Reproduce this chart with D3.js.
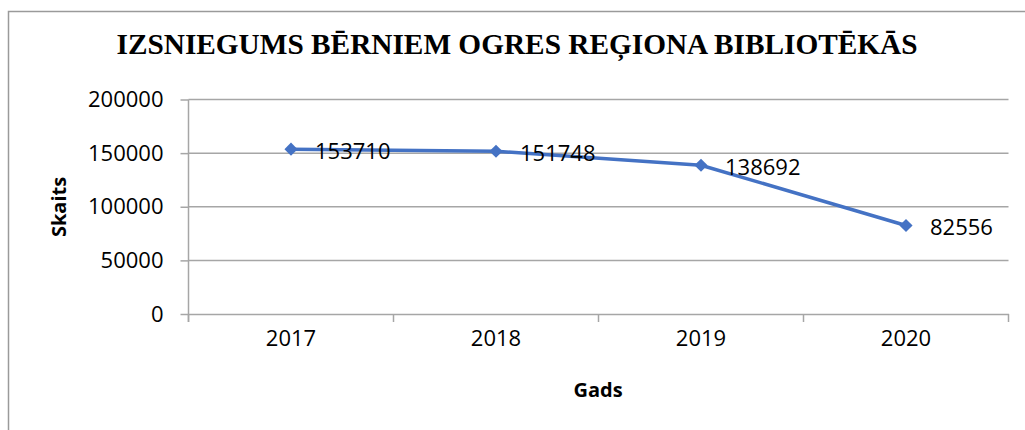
<!DOCTYPE html>
<html lang="lv">
<head>
<meta charset="UTF-8">
<script src="https://cdnjs.cloudflare.com/ajax/libs/d3/7.8.5/d3.min.js"></script>
<style>
body { margin: 0; background: #fff; }
svg { display: block; }
.tick text { font-family: "Open Sans", sans-serif; font-size: 22px; fill: #000; }
</style>
</head>
<body>
<script>
var years = ["2017", "2018", "2019", "2020"];
var values = [153710, 151748, 138692, 82556];
var yTicks = [0, 50000, 100000, 150000, 200000];

var W = 1025, H = 430;
var plot = { left: 188.5, right: 1008.5, top: 99.5, bottom: 314 };

var svg = d3.select("body").append("svg")
    .attr("width", W)
    .attr("height", H);

// outer chart frame (runs off the right and bottom of the picture)
svg.append("rect")
    .attr("x", 8.5).attr("y", 11.5)
    .attr("width", W + 20).attr("height", H + 20)
    .attr("fill", "#fff")
    .attr("stroke", "#9a9a9a")
    .attr("stroke-width", 1.5);

var x = d3.scaleBand().domain(years).range([plot.left, plot.right]);
var y = d3.scaleLinear().domain([0, 200000]).range([plot.bottom, plot.top]);

// gridlines
svg.append("g")
    .selectAll("line")
    .data(yTicks.slice(1))
    .join("line")
    .attr("x1", plot.left).attr("x2", plot.right)
    .attr("y1", d => y(d)).attr("y2", d => y(d))
    .attr("stroke", "#a6a6a6")
    .attr("stroke-width", 1.5);

var yAxis = svg.append("g")
    .attr("transform", "translate(" + plot.left + ",0)")
    .call(d3.axisLeft(y).tickValues(yTicks).tickSize(8).tickPadding(17).tickFormat(d3.format("d")));
yAxis.selectAll("line, path").attr("stroke", "#a6a6a6").attr("stroke-width", 1.5);
yAxis.select(".domain").attr("d", "M0," + plot.top + "V" + (plot.bottom + 8));

var xAxis = svg.append("g")
    .attr("transform", "translate(0," + plot.bottom + ")")
    .call(d3.axisBottom(x).tickSize(0).tickPadding(24));
xAxis.select(".domain").attr("stroke", "#a6a6a6").attr("stroke-width", 1.5);
xAxis.selectAll(".tick text").attr("dy", "0.35em");

// category boundary ticks
svg.append("g")
    .selectAll("line")
    .data(years.concat(["end"]))
    .join("line")
    .attr("x1", (d, i) => plot.left + i * x.bandwidth())
    .attr("x2", (d, i) => plot.left + i * x.bandwidth())
    .attr("y1", plot.bottom).attr("y2", plot.bottom + 8)
    .attr("stroke", "#a6a6a6")
    .attr("stroke-width", 1.5);

var cx = d => x(d) + x.bandwidth() / 2;

var line = d3.line()
    .x((d, i) => cx(years[i]))
    .y(d => y(d));

svg.append("path")
    .datum(values)
    .attr("d", line)
    .attr("fill", "none")
    .attr("stroke", "#4472c4")
    .attr("stroke-width", 3.5)
    .attr("stroke-linejoin", "round");

svg.append("g")
    .selectAll("path")
    .data(values)
    .join("path")
    .attr("d", d3.symbol().type(d3.symbolDiamond2).size(110))
    .attr("transform", (d, i) => "translate(" + cx(years[i]) + "," + y(d) + ")")
    .attr("fill", "#4472c4");

// data labels
svg.append("g")
    .selectAll("text")
    .data(values)
    .join("text")
    .attr("x", (d, i) => cx(years[i]) + 24)
    .attr("y", d => y(d) + 2)
    .attr("dy", "0.35em")
    .style("font-family", "'Open Sans', sans-serif")
    .style("font-size", "22px")
    .text(d => d);

svg.append("text")
    .attr("x", 517)
    .attr("y", 54)
    .attr("text-anchor", "middle")
    .style("font-family", "'Liberation Serif', 'Times New Roman', serif")
    .style("font-weight", "bold")
    .style("font-size", "29.3px")
    .text("IZSNIEGUMS BĒRNIEM OGRES REĢIONA BIBLIOTĒKĀS");

svg.append("text")
    .attr("transform", "translate(59,207) rotate(-90)")
    .attr("text-anchor", "middle")
    .attr("dy", "0.35em")
    .style("font-family", "'Open Sans', sans-serif")
    .style("font-weight", "bold")
    .style("font-size", "20px")
    .text("Skaits");

svg.append("text")
    .attr("x", 598)
    .attr("y", 390)
    .attr("text-anchor", "middle")
    .attr("dy", "0.35em")
    .style("font-family", "'Open Sans', sans-serif")
    .style("font-weight", "bold")
    .style("font-size", "20px")
    .text("Gads");
</script>
</body>
</html>
